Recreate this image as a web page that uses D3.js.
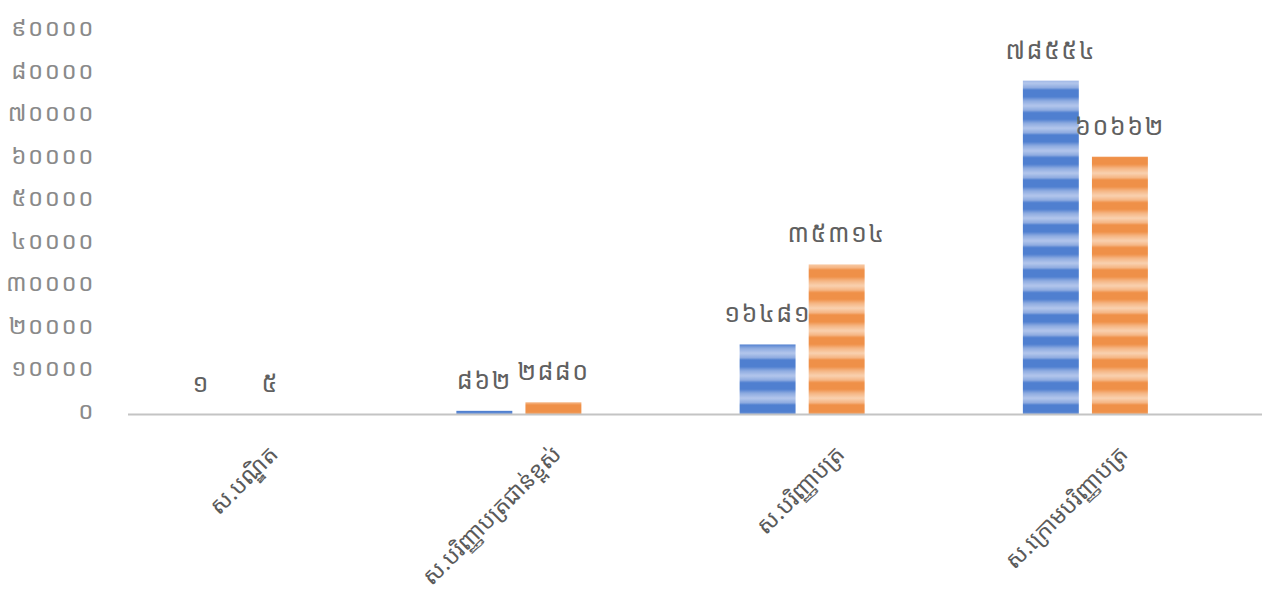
<!DOCTYPE html>
<html><head><meta charset="utf-8">
<script src="https://cdn.jsdelivr.net/npm/d3@7"></script>
<style>
html,body{margin:0;padding:0;background:#fff;}
svg{display:block;}
text{font-family:"Noto Sans Khmer","Khmer OS","Khmer OS System","DejaVu Sans",sans-serif;}
</style>
</head><body>
<svg id="chart" width="1266" height="597"></svg>
<script>
const categories = ["ស.បណ្ឌិត","ស.បរិញ្ញាបត្រជាន់ខ្ពស់","ស.បរិញ្ញាបត្រ","ស.ក្រោមបរិញ្ញាបត្រ"];
const seriesNames = ["s1","s2"];
const blueValues = [1, 862, 16481, 78554];
const orangeValues = [5, 2880, 35314, 60662];
const tickValues = [0,10000,20000,30000,40000,50000,60000,70000,80000,90000];

const khDigits = ["០","១","២","៣","៤","៥","៦","៧","៨","៩"];
const toKhmer = n => String(n).replace(/[0-9]/g, d => khDigits[+d]);

const svg = d3.select("#chart");
const defs = svg.append("defs");
function stripe(id, dark, light, lighter){
  const gid = id + "g";
  const g = defs.append("linearGradient").attr("id", gid).attr("x1",0).attr("x2",0).attr("y1",0).attr("y2",1);
  g.append("stop").attr("offset","0%").attr("stop-color", dark);
  g.append("stop").attr("offset","30%").attr("stop-color", dark);
  g.append("stop").attr("offset","48%").attr("stop-color", light);
  g.append("stop").attr("offset","70%").attr("stop-color", lighter);
  g.append("stop").attr("offset","90%").attr("stop-color", light);
  g.append("stop").attr("offset","100%").attr("stop-color", dark);
  const p = defs.append("pattern").attr("id", id).attr("patternUnits","userSpaceOnUse")
    .attr("width", 10).attr("height", 22.5);
  p.append("rect").attr("width",10).attr("height",22.5).attr("fill", `url(#${gid})`);
}
stripe("pBlue", "#4f7fd0", "#8eabe0", "#b3c6ec");
stripe("pOrange", "#ef9048", "#f5b583", "#f9d1b0");

const y = d3.scaleLinear().domain([0, 90000]).range([414.5, 32]);
const x = d3.scaleBand().domain(categories).range([94, 1227]);
const xs = d3.scaleBand().domain(seriesNames).range([-62.5, 62.5]).paddingInner(0.19);

// y axis labels
const yAxis = d3.axisLeft(y).tickValues(tickValues).tickFormat(toKhmer).tickSize(0).tickPadding(0);
const gy = svg.append("g").attr("transform","translate(95,-4)").call(yAxis);
gy.select(".domain").remove();
gy.selectAll("text").attr("fill","#8a8a8a").attr("font-size", 24).attr("letter-spacing", 1.5);

const data = categories.map((c,i)=>({c, vals:[{s:"s1",v:blueValues[i]},{s:"s2",v:orangeValues[i]}]}));
const groups = svg.append("g").selectAll("g").data(data).join("g")
  .attr("transform", d => `translate(${x(d.c)+x.bandwidth()/2},0)`);
groups.selectAll("rect").data(d=>d.vals).join("rect")
  .attr("x", d => xs(d.s)).attr("width", xs.bandwidth())
  .attr("y", d => y(d.v)).attr("height", d => y(0)-y(d.v))
  .attr("fill", d => d.s==="s1" ? "url(#pBlue)" : "url(#pOrange)");
groups.selectAll("text").data(d=>d.vals).join("text")
  .attr("x", d => xs(d.s)+xs.bandwidth()/2).attr("y", d => y(d.v)-22)
  .attr("text-anchor","middle").attr("fill","#606060").attr("font-size", 25).attr("letter-spacing", 1.5)
  .text(d => toKhmer(d.v));

// x axis line
svg.append("line").attr("x1",128).attr("x2",1262).attr("y1",414.5).attr("y2",414.5)
  .attr("stroke","#c4c4c4").attr("stroke-width",2);

// category labels
svg.append("g").selectAll("text").data(categories).join("text")
  .attr("transform", d => `translate(${x(d)+x.bandwidth()/2+38},450) rotate(-45)`)
  .attr("text-anchor","end").attr("dy","0.35em")
  .attr("fill","#5a5a5a").attr("font-size", 23)
  .text(d => d);
</script>
</body></html>
